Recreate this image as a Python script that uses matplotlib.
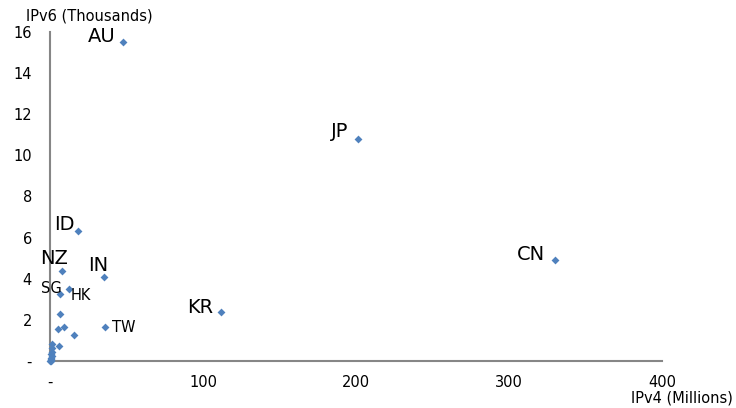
import matplotlib.pyplot as plt
from matplotlib.ticker import FuncFormatter

# IPv4 addresses (millions) vs IPv6 allocations (thousands) by economy
labels = ["AU", "JP", "CN", "ID", "NZ", "IN", "KR", "SG", "HK", "TW"]
ipv4_labeled = [47.6, 201.0, 330.0, 18.2, 7.8, 35.0, 112.0, 6.5, 12.4, 36.0]
ipv6_labeled = [15.5, 10.8, 4.9, 6.3, 4.4, 4.1, 2.38, 3.25, 3.5, 1.65]

ipv4_other = [6.5, 5.2, 9.1, 15.6, 5.9, 1.6, 1.0, 1.2, 0.9, 1.1, 0.6, 0.4, 0.8, 0.3, 0.5]
ipv6_other = [2.28, 1.55, 1.65, 1.26, 0.73, 0.85, 0.65, 0.45, 0.35, 0.25, 0.15, 0.08, 0.05, 0.0, 0.02]

x_ticks = [0, 100, 200, 300, 400]
y_ticks = [0, 2, 4, 6, 8, 10, 12, 14, 16]

# label placement: (size, ha, dx px, dy px)
label_style = {
    "AU": (14, "right", -7, 0),
    "JP": (14, "right", -9, 2),
    "CN": (14, "right", -10, 0),
    "ID": (14, "right", -3, 1),
    "NZ": (14, "right", 6, 7),
    "IN": (14, "right", 5, 6),
    "KR": (14, "right", -8, -1),
    "SG": (10.5, "right", 2, 1),
    "HK": (10.5, "left", 2, -11),
    "TW": (10.5, "left", 7, -5),
}

marker_color = "#4F81BD"
axis_color = "#868686"

fig = plt.figure(figsize=(7.36, 4.08), dpi=100)
ax = fig.add_axes([0.0679, 0.1152, 0.8316, 0.8064])

ax.scatter(ipv4_other + ipv4_labeled, ipv6_other + ipv6_labeled,
           marker="D", s=16, color=marker_color, linewidths=0, zorder=3,
           clip_on=False)

for name, x, y in zip(labels, ipv4_labeled, ipv6_labeled):
    size, ha, dx, dy = label_style[name]
    ax.annotate(name, (x, y), xytext=(dx, dy), textcoords="offset pixels",
                ha=ha, va="baseline", fontsize=size, color="black")

ax.set_xlim(0, 400)
ax.set_ylim(0, 16)
ax.set_xticks(x_ticks)
ax.set_yticks(y_ticks)

dash_zero = FuncFormatter(lambda v, p: "-" if v == 0 else f"{v:g}")
ax.xaxis.set_major_formatter(dash_zero)
ax.yaxis.set_major_formatter(dash_zero)
ax.tick_params(length=0, labelsize=10.5, colors="black")
ax.tick_params(axis="y", pad=13)
ax.tick_params(axis="x", pad=10)

for side in ["top", "right"]:
    ax.spines[side].set_visible(False)
for side in ["left", "bottom"]:
    ax.spines[side].set_color(axis_color)
    ax.spines[side].set_linewidth(1.5)

fig.text(26 / 736, 1 - 16 / 408, "IPv6 (Thousands)", ha="left", va="center",
         fontsize=10.5)
fig.text(733 / 736, 1 - 398 / 408, "IPv4 (Millions)", ha="right", va="center",
         fontsize=10.5)

fig.savefig("out.png", dpi=100)
